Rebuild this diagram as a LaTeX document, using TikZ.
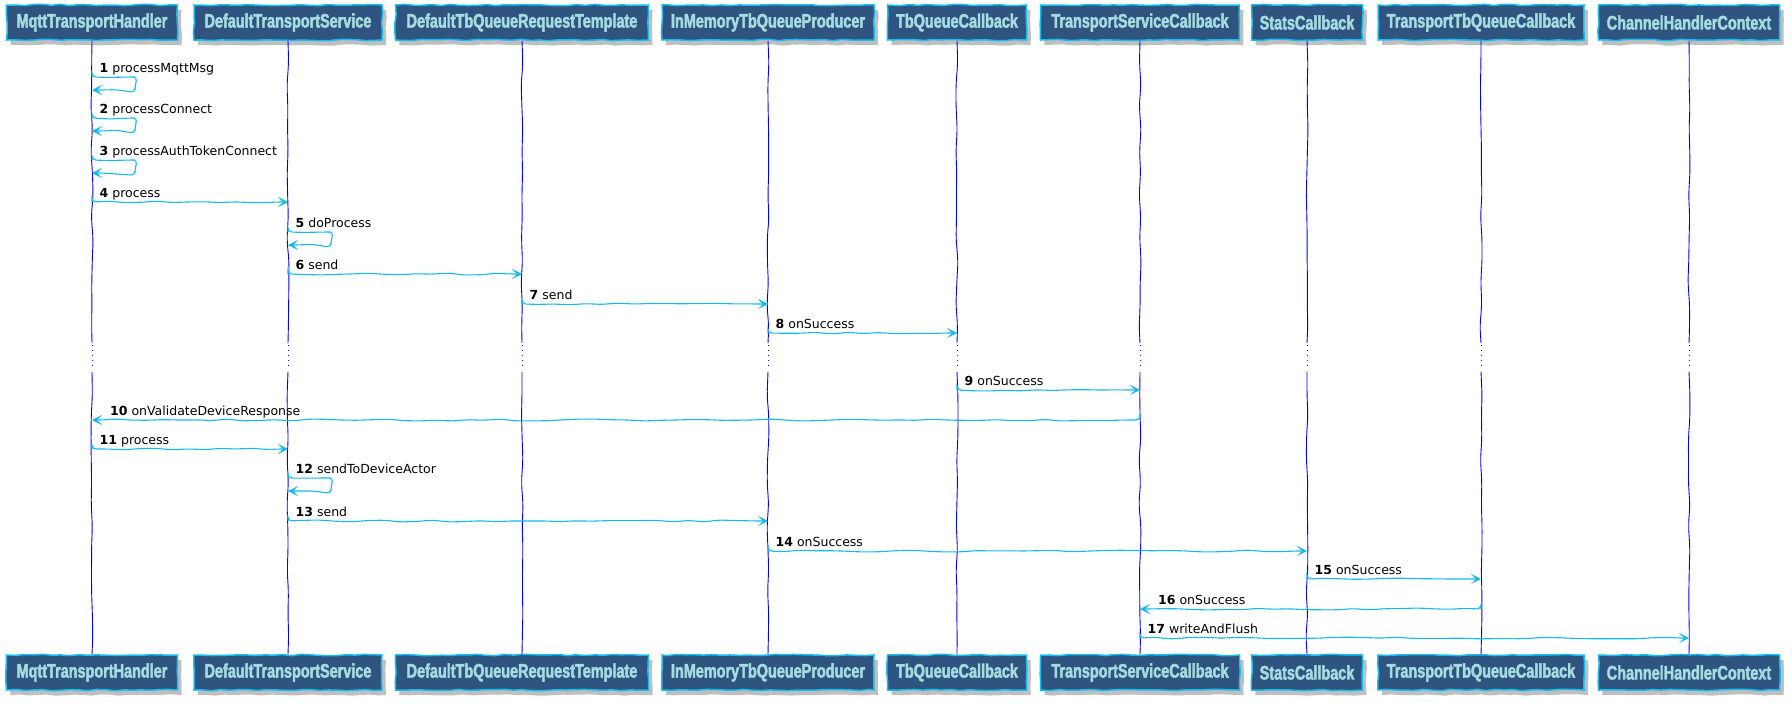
\documentclass[tikz,border=0pt]{standalone}
\usepackage{fontspec}
\setmainfont{DejaVu Sans}
\newfontfamily\headfont{Liberation Sans}[FakeStretch=0.74,FakeBold=2.2]
\usetikzlibrary{arrows.meta,decorations.pathmorphing,shadows,calc}
\definecolor{boxfill}{RGB}{47,84,128}
\definecolor{boxtext}{RGB}{166,219,224}
\definecolor{boxline}{RGB}{20,190,240}
\definecolor{arrowc}{RGB}{20,185,240}
\definecolor{lifec}{RGB}{0,0,255}
\newcommand{\msgR}[5]{%
  \draw[msg] (#1 |- 0,#3) -- (#2 |- 0,#3);
  \node[lbl] (l#4) at ($(#1 |- 0,#3)+(7.5,-5)$) {\textbf{#4} #5};}
\newcommand{\msgL}[5]{%
  \draw[msg] (#1 |- 0,#3) -- (#2 |- 0,#3);
  \node[lbl] (l#4) at ($(#2 |- 0,#3)+(18,-5)$) {\textbf{#4} #5};}
\newcommand{\msgS}[4]{%
  \draw[msg] (#1 |- 0,#2) -- ($(#1 |- 0,#2)+(43,0)$) -- ($(#1 |- 0,#2)+(43,13)$) -- ($(#1 |- 0,#2)+(0,13)$);
  \node[lbl] (l#3) at ($(#1 |- 0,#2)+(7.5,-5)$) {\textbf{#3} #4};}
\begin{document}
\begin{tikzpicture}[x=1pt,y=-1pt,
  head/.style={draw=boxline, line width=1.5pt, fill=boxfill, text=boxtext,
    font=\headfont\bfseries\fontsize{19.5}{21}\selectfont,
    minimum height=35pt, inner xsep=4pt, inner ysep=0pt,
    decorate, decoration={random steps,segment length=9pt,amplitude=0.7pt},
    drop shadow={shadow xshift=4pt,shadow yshift=-5pt,fill=black!55,opacity=0.45}},
  life/.style={draw=lifec, line width=0.9pt, decorate,
    decoration={random steps,segment length=22pt,amplitude=1.1pt}, rounded corners=7pt},
  lifedot/.style={draw=lifec, line width=0.9pt, dash pattern=on 1pt off 4pt},
  msg/.style={draw=arrowc, line width=1.1pt,
    -{Stealth[length=10pt,width=10pt,inset=5pt]},
    decorate, decoration={random steps,segment length=16pt,amplitude=1pt,post length=10pt},
    rounded corners=4pt},
  lbl/.style={anchor=base west, inner sep=0pt, font=\fontsize{12.5}{14}\selectfont}]
\pgfmathsetseed{7}
\fill[white] (0,0) rectangle (1792,702);
\useasboundingbox (0,0) rectangle (1792,702);
% headers
\node[head, minimum width=171pt] (hA) at (92,22.5)   {MqttTransportHandler};
\node[head, minimum width=188pt] (hB) at (288,22.5)  {DefaultTransportService};
\node[head, minimum width=253pt] (hC) at (522,22.5)  {DefaultTbQueueRequestTemplate};
\node[head, minimum width=212pt] (hD) at (768,22.5)  {InMemoryTbQueueProducer};
\node[head, minimum width=139pt] (hE) at (957,22.5)  {TbQueueCallback};
\node[head, minimum width=199pt] (hF) at (1140,22.5) {TransportServiceCallback};
\node[head, minimum width=111pt] (hG) at (1307,22.5) {StatsCallback};
\node[head, minimum width=206pt] (hH) at (1481,22.5) {TransportTbQueueCallback};
\node[head, minimum width=181pt] (hI) at (1689,22.5) {ChannelHandlerContext};
% footers
\node[head, minimum width=171pt] (fA) at (92,672.5)   {MqttTransportHandler};
\node[head, minimum width=188pt] (fB) at (288,672.5)  {DefaultTransportService};
\node[head, minimum width=253pt] (fC) at (522,672.5)  {DefaultTbQueueRequestTemplate};
\node[head, minimum width=212pt] (fD) at (768,672.5)  {InMemoryTbQueueProducer};
\node[head, minimum width=139pt] (fE) at (957,672.5)  {TbQueueCallback};
\node[head, minimum width=199pt] (fF) at (1140,672.5) {TransportServiceCallback};
\node[head, minimum width=111pt] (fG) at (1307,672.5) {StatsCallback};
\node[head, minimum width=206pt] (fH) at (1481,672.5) {TransportTbQueueCallback};
\node[head, minimum width=181pt] (fI) at (1689,672.5) {ChannelHandlerContext};
% lifelines
\foreach \n in {A,B,C,D,E,F,G,H,I}{
  \draw[life] (h\n.south) -- (h\n.south |- 0,343);
  \draw[lifedot] (h\n.south |- 0,345) -- (h\n.south |- 0,370);
  \draw[life] (h\n.south |- 0,372) -- (f\n.north);
}
% messages
\msgS{hA}{77}{1}{processMqttMsg}
\msgS{hA}{118}{2}{processConnect}
\msgS{hA}{160}{3}{processAuthTokenConnect}
\msgR{hA}{hB}{202}{4}{process}
\msgS{hB}{232}{5}{doProcess}
\msgR{hB}{hC}{274}{6}{send}
\msgR{hC}{hD}{304}{7}{send}
\msgR{hD}{hE}{333}{8}{onSuccess}
\msgR{hE}{hF}{390}{9}{onSuccess}
\msgL{hF}{hA}{420}{10}{onValidateDeviceResponse}
\msgR{hA}{hB}{449}{11}{process}
\msgS{hB}{478}{12}{sendToDeviceActor}
\msgR{hB}{hD}{521}{13}{send}
\msgR{hD}{hG}{551}{14}{onSuccess}
\msgR{hG}{hH}{579}{15}{onSuccess}
\msgL{hH}{hF}{609}{16}{onSuccess}
\msgR{hF}{hI}{638}{17}{writeAndFlush}
\end{tikzpicture}
\end{document}
